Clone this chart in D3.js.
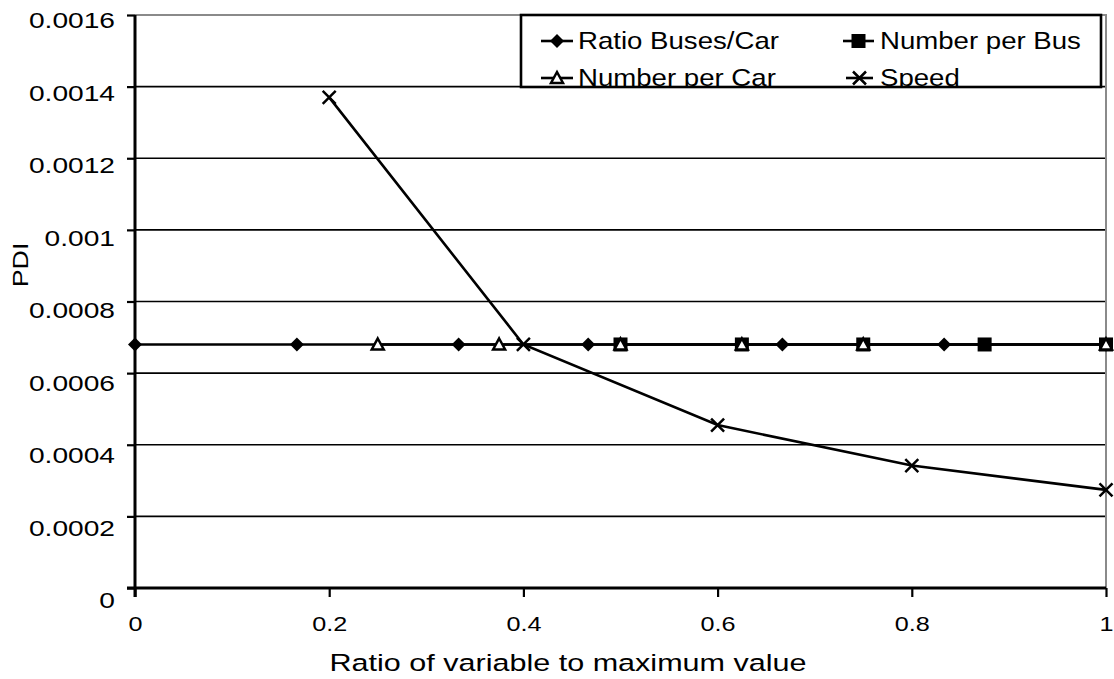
<!DOCTYPE html>
<html>
<head>
<meta charset="utf-8">
<script src="https://cdn.jsdelivr.net/npm/d3@7"></script>
<style>
  html, body { margin: 0; padding: 0; background: #fff; }
  svg { display: block; font-family: "Liberation Sans", Arial, sans-serif; }
</style>
</head>
<body>
<svg id="chart" width="1114" height="679"></svg>
<script>
// Sensitivity of PDI to each variable, as a ratio of its maximum value
const yTicks = [0, 0.0002, 0.0004, 0.0006, 0.0008, 0.001, 0.0012, 0.0014, 0.0016];
const yTickLabels = ["0", "0.0002", "0.0004", "0.0006", "0.0008", "0.001", "0.0012", "0.0014", "0.0016"];
const xTicks = [0, 0.2, 0.4, 0.6, 0.8, 1];
const xTickLabels = ["0", "0.2", "0.4", "0.6", "0.8", "1"];

const ratioBusesCarX = [0, 0.1667, 0.3333, 0.4667, 0.6667, 0.8333, 1];
const ratioBusesCarY = [0.00068, 0.00068, 0.00068, 0.00068, 0.00068, 0.00068, 0.00068];
const numberPerBusX = [0.5, 0.625, 0.75, 0.875, 1];
const numberPerBusY = [0.00068, 0.00068, 0.00068, 0.00068, 0.00068];
const numberPerCarX = [0.25, 0.375, 0.5, 0.625, 0.75, 1];
const numberPerCarY = [0.00068, 0.00068, 0.00068, 0.00068, 0.00068, 0.00068];
const speedX = [0.2, 0.4, 0.6, 0.8, 1];
const speedY = [0.00137, 0.00068, 0.000455, 0.000342, 0.000274];

const seriesNames = ["Ratio Buses/Car", "Number per Bus", "Number per Car", "Speed"];

const series = [
  { name: seriesNames[0], xs: ratioBusesCarX, ys: ratioBusesCarY, marker: "diamond" },
  { name: seriesNames[1], xs: numberPerBusX, ys: numberPerBusY, marker: "square" },
  { name: seriesNames[2], xs: numberPerCarX, ys: numberPerCarY, marker: "triangle" },
  { name: seriesNames[3], xs: speedX, ys: speedY, marker: "cross" }
];

const svg = d3.select("#chart");
const plot = { left: 135, right: 1106, top: 15, bottom: 588 };

const x = d3.scaleLinear().domain([0, 1]).range([plot.left, plot.right]);
const y = d3.scaleLinear().domain([0, 0.0016]).range([plot.bottom, plot.top]);
// Value labels on the vertical axis sit on a slightly taller band than the ticks
const yLabelPos = d3.scaleLinear().domain([0, 0.0016]).range([600, 20]);

// Horizontal gridlines
svg.append("g")
  .selectAll("line")
  .data(yTicks.slice(1, -1))
  .join("line")
  .attr("x1", plot.left).attr("x2", plot.right)
  .attr("y1", d => y(d)).attr("y2", d => y(d))
  .attr("stroke", "#000").attr("stroke-width", 1.6);

// Plot frame: grey on top and right
svg.append("path")
  .attr("d", `M${plot.left},${plot.top}H${plot.right}V${plot.bottom}`)
  .attr("fill", "none").attr("stroke", "#8a8a8a").attr("stroke-width", 2);

// Y axis
const yAxis = d3.axisLeft(y)
  .tickValues(yTicks)
  .tickFormat((d, i) => yTickLabels[i])
  .tickSize(8);
const gy = svg.append("g").attr("transform", `translate(${plot.left},0)`).call(yAxis);

// X axis
const xAxis = d3.axisBottom(x)
  .tickValues(xTicks)
  .tickFormat((d, i) => xTickLabels[i])
  .tickSize(9);
const gx = svg.append("g").attr("transform", `translate(0,${plot.bottom})`).call(xAxis);

[gx, gy].forEach(g => {
  g.select(".domain").attr("stroke", "#000").attr("stroke-width", 3);
  g.selectAll(".tick line").attr("stroke", "#000").attr("stroke-width", 2.2);
  g.selectAll(".tick text").attr("fill", "#000")
    .style("font-family", "'Liberation Sans', Arial, sans-serif");
});
gy.select(".domain").attr("d", `M0,${plot.top}V${plot.bottom + 9}`);
gx.select(".domain").attr("d", `M${plot.left - 8},0H${plot.right}`);

// Tick label glyphs are drawn a little wider than the stock face
gy.selectAll(".tick text")
  .style("font-size", "22px")
  .attr("x", 0).attr("dy", "0.36em")
  .attr("transform", d => `translate(-20,${yLabelPos(d) - y(d)}) scale(1.28,1)`);

gx.selectAll(".tick text")
  .style("font-size", "21px")
  .attr("y", 0).attr("dy", null)
  .attr("transform", "translate(0,43) scale(1.2,1)");

// Axis titles
svg.append("text")
  .attr("transform", "translate(568,671) scale(1.3,1)")
  .attr("text-anchor", "middle")
  .style("font-size", "23.5px")
  .text("Ratio of variable to maximum value");

svg.append("text")
  .attr("transform", "translate(28,265) rotate(-90) scale(1.22,1)")
  .attr("text-anchor", "middle")
  .style("font-size", "22px")
  .text("PDI");

// Marker shapes
function drawMarker(g, type, cx, cy) {
  if (type === "diamond") {
    g.append("path")
      .attr("d", `M${cx},${cy - 7}L${cx + 7},${cy}L${cx},${cy + 7}L${cx - 7},${cy}Z`)
      .attr("fill", "#000");
  } else if (type === "square") {
    g.append("rect")
      .attr("x", cx - 7).attr("y", cy - 7).attr("width", 14).attr("height", 14)
      .attr("fill", "#000");
  } else if (type === "triangle") {
    g.append("path")
      .attr("d", `M${cx},${cy - 6}L${cx + 6},${cy + 5}L${cx - 6},${cy + 5}Z`)
      .attr("fill", "#fff").attr("stroke", "#000").attr("stroke-width", 2.5)
      .attr("stroke-linejoin", "miter");
  } else if (type === "cross") {
    g.append("path")
      .attr("d", `M${cx - 6.5},${cy - 6.5}L${cx + 6.5},${cy + 6.5}M${cx + 6.5},${cy - 6.5}L${cx - 6.5},${cy + 6.5}`)
      .attr("stroke", "#000").attr("stroke-width", 2.5).attr("fill", "none");
  }
}

const line = d3.line().x(d => x(d[0])).y(d => y(d[1]));

series.forEach(s => {
  const pts = s.xs.map((v, i) => [v, s.ys[i]]);
  const g = svg.append("g");
  g.append("path")
    .attr("d", line(pts))
    .attr("fill", "none").attr("stroke", "#000").attr("stroke-width", 2.6);
  pts.forEach(p => drawMarker(g, s.marker, x(p[0]), y(p[1])));
});

// Legend
const legend = { x: 521, y: 15, w: 580, h: 72 };
svg.append("defs").append("clipPath").attr("id", "legend-clip")
  .append("rect").attr("x", legend.x).attr("y", legend.y).attr("width", legend.w).attr("height", legend.h - 1);

const lg = svg.append("g");
lg.append("rect")
  .attr("x", legend.x).attr("y", legend.y).attr("width", legend.w).attr("height", legend.h)
  .attr("fill", "#fff");
const lgi = lg.append("g").attr("clip-path", "url(#legend-clip)");
const legendPos = [
  { sx: 541, sw: 32, tx: 578, base: 49 },
  { sx: 843, sw: 31, tx: 880, base: 49 },
  { sx: 541, sw: 32, tx: 578, base: 86 },
  { sx: 846, sw: 27, tx: 880, base: 86 }
];
series.forEach((s, i) => {
  const p = legendPos[i];
  const cy = p.base - 8;
  lgi.append("line")
    .attr("x1", p.sx).attr("x2", p.sx + p.sw)
    .attr("y1", cy).attr("y2", cy)
    .attr("stroke", "#000").attr("stroke-width", 2.6);
  drawMarker(lgi, s.marker, p.sx + p.sw / 2, cy);
  lgi.append("text")
    .attr("transform", `translate(${p.tx},${p.base}) scale(1.15,1)`)
    .style("font-size", "24px")
    .text(s.name);
});
lg.append("rect")
  .attr("x", legend.x).attr("y", legend.y).attr("width", legend.w).attr("height", legend.h)
  .attr("fill", "none").attr("stroke", "#000").attr("stroke-width", 2.6);
</script>
</body>
</html>
